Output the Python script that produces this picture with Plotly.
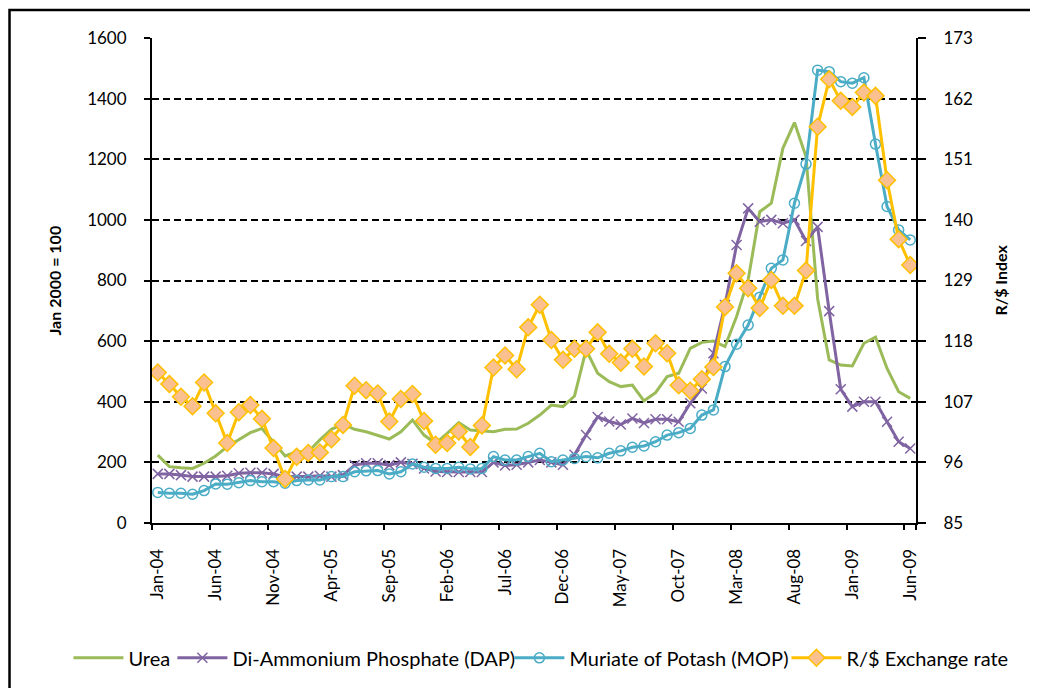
import pandas as pd
import plotly.graph_objects as go

# Monthly categories Jan-04 .. Jun-09
months = list(pd.date_range("2004-01-01", "2009-06-01", freq="MS").strftime("%b-%y"))
tick_labels = ["Jan-04", "Jun-04", "Nov-04", "Apr-05", "Sep-05", "Feb-06", "Jul-06",
               "Dec-06", "May-07", "Oct-07", "Mar-08", "Aug-08", "Jan-09", "Jun-09"]

urea = [224, 186, 182, 180, 197, 221, 252, 274, 298, 312,
        265, 221, 235, 235, 274, 309, 326, 309, 301, 290,
        277, 301, 340, 290, 263, 296, 331, 307, 304, 301,
        309, 310, 329, 356, 389, 384, 419, 571, 494, 466,
        450, 455, 403, 430, 483, 494, 576, 596, 600, 582,
        681, 802, 1027, 1055, 1236, 1321, 1208, 740, 538, 521,
        518, 593, 613, 510, 433, 411]

dap = [162, 162, 158, 153, 153, 153, 156, 164, 166, 166,
       162, 153, 153, 153, 156, 153, 158, 191, 197, 197,
       191, 200, 195, 180, 170, 168, 168, 168, 168, 200,
       190, 192, 200, 208, 200, 192, 225, 290, 350, 335,
       325, 345, 330, 342, 342, 334, 395, 444, 560, 719,
       917, 1038, 994, 1000, 989, 1000, 930, 977, 699, 441,
       384, 400, 400, 334, 268, 246]

mop = [101, 98, 98, 95, 107, 129, 128, 133, 140, 136,
       136, 131, 140, 142, 142, 153, 153, 169, 172, 173,
       162, 169, 195, 184, 180, 180, 184, 178, 180, 219,
       208, 208, 219, 230, 202, 208, 213, 219, 215, 230,
       238, 250, 254, 268, 290, 298, 312, 356, 373, 516,
       590, 653, 745, 840, 868, 1055, 1184, 1494, 1489, 1456,
       1451, 1469, 1250, 1044, 967, 934]

rand_usd = [112.3, 110.2, 107.9, 106.2, 110.5, 104.9, 99.5, 105.1, 106.4, 103.9,
            98.6, 93.0, 97.0, 97.7, 97.8, 100.2, 102.8, 109.9, 109.1, 108.5,
            103.4, 107.5, 108.4, 103.5, 99.2, 99.5, 101.6, 98.8, 102.7, 113.2,
            115.4, 112.9, 120.5, 124.6, 118.2, 114.6, 116.6, 116.6, 119.6, 115.7,
            114.1, 116.6, 113.4, 117.6, 115.8, 110.0, 109.0, 111.1, 113.3, 124.2,
            130.3, 127.6, 124.0, 129.1, 124.4, 124.4, 130.8, 156.9, 165.5, 161.6,
            160.5, 163.1, 162.5, 147.2, 136.5, 131.8]

FONT = "Lato"
GREEN, PURPLE, CYAN, GOLD, PEACH = "#9BBB59", "#8064A2", "#4BACC6", "#FFC000", "#FAC090"

fig = go.Figure()
fig.add_trace(go.Scatter(x=months, y=urea, name="Urea", mode="lines", legend="legend",
                         line=dict(color=GREEN, width=3)))
fig.add_trace(go.Scatter(x=months, y=dap, name="Di-Ammonium Phosphate (DAP)", mode="lines+markers",
                         legend="legend2",
                         line=dict(color=PURPLE, width=3),
                         marker=dict(symbol="x-thin", size=10, line=dict(color=PURPLE, width=1.5))))
fig.add_trace(go.Scatter(x=months, y=mop, name="Muriate of Potash (MOP)", mode="lines+markers",
                         legend="legend3",
                         line=dict(color=CYAN, width=3),
                         marker=dict(symbol="circle-open", size=10, color=CYAN, line=dict(width=1.5))))
fig.add_trace(go.Scatter(x=months, y=rand_usd, name="R/$ Exchange rate", mode="lines+markers",
                         yaxis="y2", legend="legend4",
                         line=dict(color=GOLD, width=3),
                         marker=dict(symbol="diamond", size=13, color=PEACH,
                                     line=dict(color=GOLD, width=1.5))))


def leg(x):
    return dict(orientation="h", x=x, xanchor="left", y=-0.278, yanchor="middle",
                font=dict(size=20), itemwidth=50, bgcolor="rgba(0,0,0,0)")


fig.update_layout(
    width=1038, height=688,
    margin=dict(l=144, r=130, t=30, b=173, autoexpand=False),
    paper_bgcolor="white", plot_bgcolor="white",
    font=dict(family=FONT, size=17, color="black"),
    showlegend=True,
    legend=leg(-0.1094), legend2=leg(0.0267), legend3=leg(0.4678), legend4=leg(0.8304),
    xaxis=dict(type="category", categoryorder="array", categoryarray=months,
               range=[-0.5, len(months) - 0.5],
               tickmode="array", tickvals=tick_labels, ticktext=tick_labels,
               tickson="boundaries", tickangle=-90,
               ticks="outside", ticklen=5, tickwidth=2, tickcolor="black",
               showline=True, linecolor="black", linewidth=2,
               showgrid=False, zeroline=False, ticklabelstandoff=17),
    yaxis=dict(range=[0, 1600], dtick=200, tick0=0,
               ticks="outside", ticklen=6, tickwidth=2, tickcolor="black",
               showline=True, linecolor="black", linewidth=2,
               showgrid=True, gridcolor="black", gridwidth=1.5, griddash="7px,4px",
               zeroline=False, ticklabelstandoff=14),
    yaxis2=dict(range=[85, 173], dtick=11, tick0=85, overlaying="y", side="right",
                ticks="outside", ticklen=8, tickwidth=2, tickcolor="black",
                showline=True, linecolor="black", linewidth=2,
                showgrid=False, zeroline=False, ticklabelstandoff=14),
    annotations=[
        dict(text="<b>Jan 2000 = 100</b>", xref="paper", yref="paper", x=-0.127, y=0.5,
             textangle=-90, showarrow=False, font=dict(size=16), xanchor="center", yanchor="middle"),
        dict(text="<b>R/$ Index</b>", xref="paper", yref="paper", x=1.11, y=0.5,
             textangle=-90, showarrow=False, font=dict(size=16), xanchor="center", yanchor="middle"),
    ],
    shapes=[dict(type="rect", xref="paper", yref="paper",
                 x0=-0.1865, y0=1.0577, x1=1.2, y1=-0.4,
                 line=dict(color="black", width=2.5), fillcolor="rgba(0,0,0,0)", layer="below")],
)

fig.write_html("out.html")
